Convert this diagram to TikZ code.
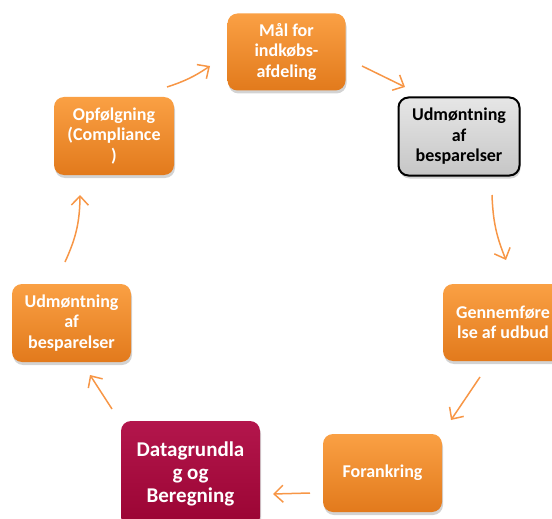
\documentclass[tikz,border=0pt]{standalone}
\usepackage{fontspec}
\setmainfont{Carlito}
\usetikzlibrary{arrows.meta,shadows}
\definecolor{arr}{HTML}{F79646}
\definecolor{orTop}{HTML}{FAA044}
\definecolor{orBot}{HTML}{E27A1C}
\definecolor{crTop}{HTML}{B3164C}
\definecolor{crBot}{HTML}{9A0433}
\definecolor{grTop}{HTML}{E6E6E6}
\definecolor{grBot}{HTML}{C6C6C6}
\begin{document}
\begin{tikzpicture}[x=1pt,y=-1pt,
  box/.style={rounded corners=10pt, align=center, inner sep=0pt,
    font=\fontsize{18}{20.5}\selectfont\bfseries,
    drop shadow={opacity=0.35, shadow xshift=1pt, shadow yshift=-3pt}},
  obox/.style={box, top color=orTop, bottom color=orBot, text=white},
  gbox/.style={box, top color=grTop, bottom color=grBot, draw=black, line width=2pt, text=black},
  cbox/.style={box, top color=crTop, bottom color=crBot, text=white},
  conn/.style={draw=arr, line width=1.5pt, -{Straight Barb[length=9pt,width=17pt,line width=1.5pt]}}]
\useasboundingbox (0,0) rectangle (552,519);
\clip (0,0) rectangle (552,519);
\node[obox, minimum width=118pt, minimum height=77pt] (mal) at (286.5,52) {Mål for\\indkøbs-\\afdeling};
\node[gbox, minimum width=121pt, minimum height=78pt] (udmA) at (459,136.5) {Udmøntning\\af\\besparelser};
\node[obox, minimum width=120pt, minimum height=77pt] (gen) at (503,322.5) {Gennemføre\\lse af udbud};
\node[obox, minimum width=119pt, minimum height=78pt] (for) at (382.5,473) {Forankring};
\node[cbox, minimum width=139pt, minimum height=106pt, font=\fontsize{21}{23}\selectfont\bfseries] (data) at (190.5,474) {Datagrundla\\g og\\Beregning};
\node[obox, minimum width=119pt, minimum height=78pt] (udmB) at (71.5,323) {Udmøntning\\af\\besparelser};
\node[obox, minimum width=120pt, minimum height=78pt] (opf) at (114,136) {Opfølgning\\(Compliance\\)};
\coordinate (a1s) at (167,87);  \coordinate (a1e) at (210,66);
\coordinate (a2s) at (362,66);  \coordinate (a2e) at (405,87);
\coordinate (a3s) at (492,195); \coordinate (a3e) at (506,260);
\coordinate (a4s) at (480,377); \coordinate (a4e) at (451,420);
\coordinate (a5s) at (310,493); \coordinate (a5e) at (273,494);
\coordinate (a6s) at (112,409); \coordinate (a6e) at (90,375);
\coordinate (a7s) at (65,262);  \coordinate (a7e) at (80,195);
\draw[conn] (a1s) to[bend right=8] (a1e);
\draw[conn] (a2s) to (a2e);
\draw[conn] (a3s) to[bend right=10] (a3e);
\draw[conn] (a4s) to (a4e);
\draw[conn] (a5s) to (a5e);
\draw[conn] (a6s) to (a6e);
\draw[conn] (a7s) to[bend right=12] (a7e);
\end{tikzpicture}
\end{document}
